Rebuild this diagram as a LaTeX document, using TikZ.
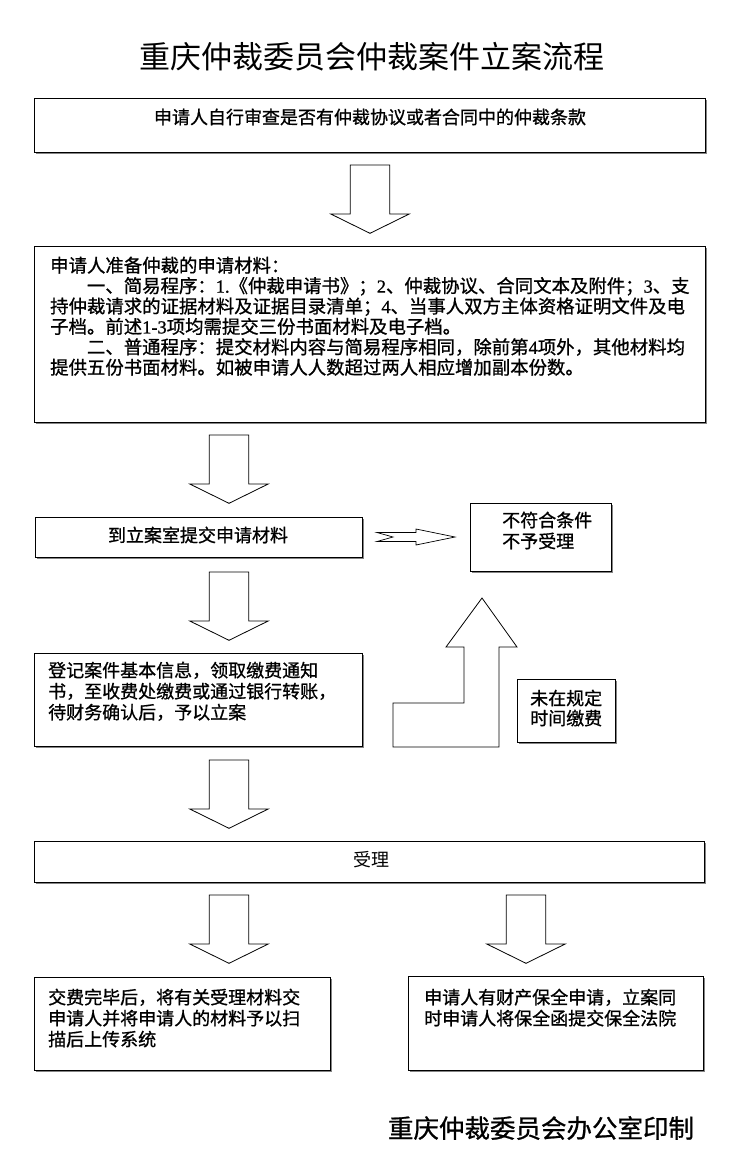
\documentclass[tikz,border=0pt]{standalone}
\usepackage{fontspec}
\newfontfamily\cjk{Noto Sans CJK SC}
\newfontfamily\cjkb[FakeBold=0.9]{Noto Sans CJK SC}
\newfontfamily\lat[FakeBold=0.9]{Liberation Serif}
\usetikzlibrary{shadows}
\tikzset{
  box/.style={draw, line width=0.9pt, fill=white, inner sep=0pt, anchor=north west,
    drop shadow={shadow xshift=1.2pt, shadow yshift=-1.2pt, fill=black!60, opacity=0.8}},
  txt/.style={inner sep=0pt, align=left, anchor=north west, font=\cjkb\fontsize{18}{21}\selectfont},
  blk/.style={draw, line width=0.8pt, fill=white, line join=miter},
}
\newcommand\bx[5]{\node[box, minimum width={#4-#2}, minimum height={#5-#3}] (#1) at (#2,#3) {};}
\newcommand\blkdown[3]{%
  \coordinate (#1) at (#2,#3);
  \draw[blk] (#1) ++(-19.7,0) -- ++(39.4,0) -- ++(0,49) -- ++(19.5,0) -- ++(-39.2,19.3)
    -- ++(-39.2,-19.3) -- ++(19.5,0) -- cycle;}
\begin{document}
\begin{tikzpicture}[x=1pt,y=-1pt]
\fill[white] (0,0) rectangle (746,1171);
\useasboundingbox (0,0) rectangle (746,1171);

% title
\node[inner sep=0pt, font=\cjk\fontsize{31}{33}\selectfont] (title) at (372,57) {重庆仲裁委员会仲裁案件立案流程};

% boxes
\bx{b1}{34}{98}{705}{152}
\bx{b2}{34}{246}{705}{422}
\bx{b3}{35}{517}{362}{557}
\bx{bn}{470}{503}{611}{571}
\bx{b4}{34}{653}{362}{746}
\bx{bw}{517}{679}{615}{742}
\bx{b5}{34}{841}{704}{882}
\bx{b6}{34}{977}{330}{1070}
\bx{b7}{408}{976}{703}{1070}

% texts
\node[inner sep=0pt, font=\cjkb\fontsize{18}{21}\selectfont] (t1) at (370,117) {申请人自行审查是否有仲裁协议或者合同中的仲裁条款};
\node[txt, font=\cjkb\fontsize{18.4}{20.4}\selectfont] (t2) at (50,256.5) {申请人准备仲裁的申请材料：\\
\hspace*{2em}一、简易程序：{\lat 1.}《仲裁申请书》；{\lat 2}、仲裁协议、合同文本及附件；{\lat 3}、支\\
持仲裁请求的证据材料及证据目录清单；{\lat 4}、当事人双方主体资格证明文件及电\\
子档。前述{\lat 1-3}项均需提交三份书面材料及电子档。\\
\hspace*{2em}二、普通程序：提交材料内容与简易程序相同，除前第{\lat 4}项外，其他材料均\\
提供五份书面材料。如被申请人人数超过两人相应增加副本份数。};
\node[inner sep=0pt, font=\cjkb\fontsize{18}{21}\selectfont] (t3) at (198,535) {到立案室提交申请材料};
\node[txt] (tn) at (502,511.5) {不符合条件\\不予受理};
\node[txt] (t4) at (48,661.5) {登记案件基本信息，领取缴费通知\\书，至收费处缴费或通过银行转账，\\待财务确认后，予以立案};
\node[txt, font=\cjkb\fontsize{18}{20}\selectfont] (tw) at (530,689.5) {未在规定\\时间缴费};
\node[inner sep=0pt, font=\cjk\fontsize{18}{21}\selectfont] (t5) at (371,860) {受理};
\node[txt] (t6) at (48,988.5) {交费完毕后，将有关受理材料交\\申请人并将申请人的材料予以扫\\描后上传系统};
\node[txt] (t7) at (424,988.5) {申请人有财产保全申请，立案同\\时申请人将保全函提交保全法院};

% footer
\node[inner sep=0pt, font=\cjkb\fontsize{25.5}{28}\selectfont] (foot) at (541,1128) {重庆仲裁委员会办公室印制};

% block arrows down
\blkdown{a1}{370}{165}
\blkdown{a2}{229}{435}
\blkdown{a3}{229}{572}
\blkdown{a4}{229}{760}
\blkdown{a5}{229}{895}
\blkdown{a6}{526}{895}

% notched right arrow
\coordinate (ar) at (377,532.5);
\draw[blk, line width=0.7pt] (ar) -- ++(39,0) -- ++(0,-3.5) -- ++(39,8) -- ++(-39,8) -- ++(0,-3.5)
  -- ++(-39,0) -- ++(16,-4.5) -- cycle;

% bent up arrow
\coordinate (au) at (393,747);
\draw[blk] (au) -- ++(0,-44) -- ++(71,0) -- ++(0,-56) -- ++(-18,0) -- ++(36,-49)
  -- ++(35,49) -- ++(-18,0) -- ++(0,100) -- cycle;
\end{tikzpicture}
\end{document}
